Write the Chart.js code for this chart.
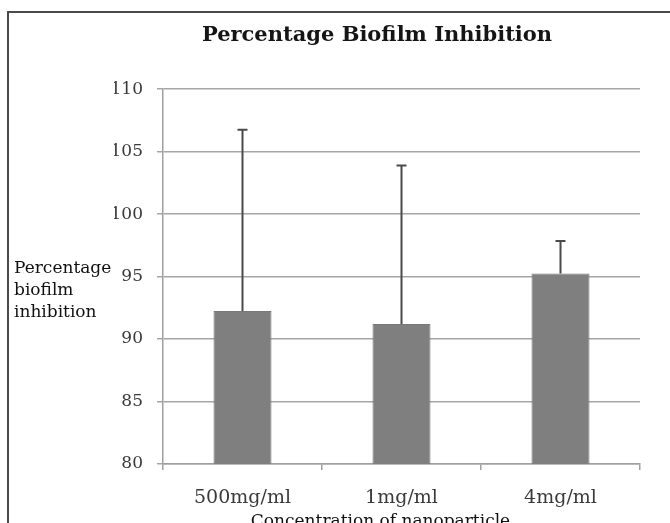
<!DOCTYPE html>
<html>
<head>
<meta charset="utf-8">
<script src="https://cdn.jsdelivr.net/npm/chart.js@4"></script>
<style>
  html, body { margin: 0; padding: 0; background: #ffffff; overflow: hidden; }
  canvas { display: block; }
</style>
</head>
<body>
<canvas id="c" width="670" height="523"></canvas>
<script>
const categories = ['500mg/ml', '1mg/ml', '4mg/ml'];
const meanInhibition = [92.25, 91.2, 95.25];
const errorPlus = [14.5, 12.7, 2.6];
const yTicks = [80, 85, 90, 95, 100, 105, 110];
const chartTitle = 'Percentage Biofilm Inhibition';
const yTitleLines = ['Percentage', 'biofilm', 'inhibition'];
const xTitle = 'Concentration of nanoparticle';

const framePlugin = {
  id: 'frame',
  beforeDraw(chart) {
    const ctx = chart.ctx;
    ctx.save();
    ctx.fillStyle = '#ffffff';
    ctx.fillRect(0, 0, chart.width, chart.height);
    ctx.strokeStyle = '#4a4a4a';
    ctx.lineWidth = 2;
    ctx.beginPath();
    ctx.moveTo(8, chart.height);
    ctx.lineTo(8, 12);
    ctx.lineTo(chart.width, 12);
    ctx.stroke();
    ctx.restore();
  }
};

const errorBarPlugin = {
  id: 'errorBars',
  afterDatasetsDraw(chart) {
    const meta = chart.getDatasetMeta(0);
    const y = chart.scales.y;
    const ctx = chart.ctx;
    ctx.save();
    ctx.strokeStyle = '#4a4a4a';
    ctx.lineWidth = 2;
    meta.data.forEach((bar, i) => {
      const top = y.getPixelForValue(meanInhibition[i] + errorPlus[i]);
      ctx.beginPath();
      ctx.moveTo(bar.x, bar.y);
      ctx.lineTo(bar.x, top);
      ctx.moveTo(bar.x - 5, top);
      ctx.lineTo(bar.x + 5, top);
      ctx.stroke();
    });
    ctx.restore();
  }
};

const axisTitlePlugin = {
  id: 'axisTitles',
  afterDraw(chart) {
    const ctx = chart.ctx;
    const a = chart.chartArea;
    ctx.save();
    ctx.fillStyle = '#111111';
    ctx.font = '17px "DejaVu Serif"';
    ctx.textAlign = 'left';
    ctx.textBaseline = 'middle';
    const mid = a.top + 201;
    yTitleLines.forEach((t, i) => {
      ctx.fillText(t, 14, mid + (i - 1) * 22);
    });
    ctx.textAlign = 'center';
    ctx.fillText(xTitle, (a.left + a.right) / 2 - 21, a.bottom + 58);
    ctx.restore();
  }
};

new Chart(document.getElementById('c'), {
  type: 'bar',
  data: {
    labels: categories,
    datasets: [{
      data: meanInhibition,
      backgroundColor: '#7f7f7f',
      borderColor: '#787878',
      borderWidth: 1,
      categoryPercentage: 1.0,
      barPercentage: 0.365
    }]
  },
  options: {
    responsive: false,
    animation: false,
    devicePixelRatio: 1,
    layout: { padding: { left: 114, right: 30, top: 0, bottom: 0 } },
    plugins: {
      legend: { display: false },
      tooltip: { enabled: false },
      title: {
        display: true,
        text: chartTitle,
        color: '#151515',
        font: { family: '"DejaVu Serif"', size: 21, weight: 'bold', lineHeight: 1.2 },
        padding: { top: 23, bottom: 41 }
      }
    },
    scales: {
      x: {
        offset: true,
        grid: { display: true, drawOnChartArea: false, drawTicks: true, tickLength: 6,
                offset: true, color: '#a0a0a0', lineWidth: 1.5 },
        border: { color: '#a0a0a0', width: 1.5 },
        ticks: { color: '#3a3a3a', font: { family: '"DejaVu Serif"', size: 19 }, padding: 17 },
        afterFit(scale) { scale.height = 59; }
      },
      y: {
        min: 80, max: 110,
        afterBuildTicks(scale) { scale.ticks = yTicks.map(v => ({ value: v })); },
        grid: { color: '#a6a6a6', lineWidth: 1.5, tickLength: 6 },
        border: { color: '#a0a0a0', width: 1.5 },
        ticks: { color: '#3a3a3a', font: { family: '"DejaVu Serif"', size: 17 }, padding: 14 },
        afterFit(scale) { scale.width = 49; }
      }
    }
  },
  plugins: [framePlugin, errorBarPlugin, axisTitlePlugin]
});
</script>
</body>
</html>
